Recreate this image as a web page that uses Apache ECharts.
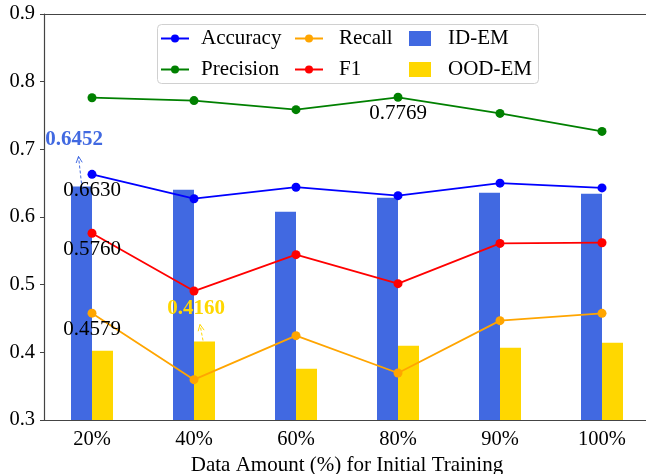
<!DOCTYPE html>
<html>
<head>
<meta charset="utf-8">
<script src="https://cdn.jsdelivr.net/npm/echarts@6/dist/echarts.min.js"></script>
<style>
    html, body {margin: 0; padding: 0; background: #fff;}
    #chart {width: 646px; height: 474px;}
</style>
</head>
<body>
<div id="chart"></div>
<script>
var categories = ['20%', '40%', '60%', '80%', '90%', '100%'];
var accuracy = [0.6630, 0.6270, 0.6440, 0.6315, 0.6500, 0.6430];
var precision = [0.7763, 0.7720, 0.7586, 0.7769, 0.7531, 0.7265];
var recall = [0.4579, 0.3596, 0.4246, 0.3695, 0.4468, 0.4576];
var f1 = [0.5760, 0.4906, 0.5443, 0.5015, 0.5610, 0.5620];
var idEm = [0.6452, 0.6404, 0.6079, 0.6285, 0.6359, 0.6345];
var oodEm = [0.4024, 0.4160, 0.3758, 0.4098, 0.4069, 0.4143];
var yTicks = [0.3, 0.4, 0.5, 0.6, 0.7, 0.8, 0.9];

// which points get a black value label under them
var accuracyLabeled = [0];
var precisionLabeled = [3];
var recallLabeled = [0];
var f1Labeled = [0];
// bars that get a coloured callout with an arrow
var idEmCallout = [0];
var oodEmCallout = [1];

var FONT = 'Liberation Serif';
var BAR_W = 21;

var lineData = function (values, labeled) {
    return values.map(function (v, i) {
        if (labeled.indexOf(i) < 0) return v;
        return {
            value: v,
            label: {
                show: true, position: 'bottom', distance: 1,
                formatter: v.toFixed(4),
                fontFamily: FONT, fontSize: 21, color: '#000'
            }
        };
    });
};

var lineSeries = function (name, values, labeled, color) {
    return {
        name: name,
        type: 'line',
        data: lineData(values, labeled),
        symbol: 'circle',
        symbolSize: 9,
        color: color,
        lineStyle: {width: 1.8, color: color},
        itemStyle: {color: color},
        z: 5
    };
};

// callout geometry, offsets in px from the top centre of the bar
var calloutStyle = {
    'ID-EM': {color: '#4169E1', from: [0, -3], to: [-3, -30], text: [-7.5, -47]},
    'OOD-EM': {color: '#FFD700', from: [-1.5, -1], to: [-4.5, -17], text: [-8.5, -33]}
};

var calloutData = [];
idEmCallout.forEach(function (i) {
    calloutData.push([i, idEm[i], -1, 'ID-EM']);
});
oodEmCallout.forEach(function (i) {
    calloutData.push([i, oodEm[i], 1, 'OOD-EM']);
});

var renderCallout = function (params, api) {
    var item = calloutData[params.dataIndex];
    var st = calloutStyle[item[3]];
    var p = api.coord([item[0], item[1]]);
    var x = p[0] + item[2] * BAR_W / 2;
    var y = p[1];
    var x1 = x + st.from[0], y1 = y + st.from[1];
    var x2 = x + st.to[0], y2 = y + st.to[1];
    var ang = Math.atan2(y2 - y1, x2 - x1);
    var head = 7, spread = 0.45;
    var h1 = [x2 - head * Math.cos(ang - spread), y2 - head * Math.sin(ang - spread)];
    var h2 = [x2 - head * Math.cos(ang + spread), y2 - head * Math.sin(ang + spread)];
    return {
        type: 'group',
        children: [{
            type: 'line',
            shape: {x1: x1, y1: y1, x2: x2, y2: y2},
            style: {stroke: st.color, lineWidth: 1, lineDash: [3, 2]}
        }, {
            type: 'polyline',
            shape: {points: [h1, [x2, y2], h2]},
            style: {stroke: st.color, lineWidth: 1, fill: null}
        }, {
            type: 'text',
            x: x + st.text[0],
            y: y + st.text[1],
            style: {
                text: item[1].toFixed(4),
                fill: st.color,
                fontFamily: FONT, fontSize: 21, fontWeight: 'bold',
                align: 'center', verticalAlign: 'middle'
            }
        }]
    };
};

var legendText = function (pad) {
    return {fontFamily: FONT, fontSize: 21, lineHeight: 21, color: '#000', padding: [0, 0, 0, pad]};
};

var chart = echarts.init(document.getElementById('chart'));
var options = {
    animation: false,
    textStyle: {fontFamily: FONT},
    grid: {left: 41, width: 612, top: 14, bottom: 54, outerBoundsMode: 'none', containLabel: false},
    graphic: [{
        type: 'rect', left: 157, top: 24, z: 1,
        shape: {width: 381, height: 59, r: 4},
        style: {fill: '#fff', stroke: '#d0d0d0', lineWidth: 1}
    }],
    legend: [{
        data: ['Accuracy', 'Precision'], orient: 'vertical', left: 160, top: 28,
        padding: 0, itemWidth: 28, itemHeight: 10, itemGap: 10, textStyle: legendText(7)
    }, {
        data: ['Recall', 'F1'], orient: 'vertical', left: 294, top: 28,
        padding: 0, itemWidth: 28, itemHeight: 10, itemGap: 10, textStyle: legendText(11)
    }, {
        data: ['ID-EM', 'OOD-EM'], orient: 'vertical', left: 409, top: 28, icon: 'rect',
        padding: 0, itemWidth: 22, itemHeight: 15, itemGap: 10, textStyle: legendText(12)
    }],
    xAxis: [{
        type: 'category',
        data: categories,
        name: 'Data Amount (%) for Initial Training',
        nameLocation: 'middle',
        nameGap: 29,
        nameTextStyle: {fontFamily: FONT, fontSize: 21, color: '#000'},
        axisLine: {lineStyle: {color: '#444', width: 1.2}},
        axisTick: {alignWithLabel: true, length: 4, lineStyle: {color: '#444'}},
        axisLabel: {fontFamily: FONT, fontSize: 20.5, color: '#000', margin: 9}
    }, {
        type: 'category',
        data: categories,
        position: 'top',
        axisLine: {lineStyle: {color: '#444', width: 1.2}},
        axisTick: {show: false},
        axisLabel: {show: false}
    }],
    yAxis: {
        type: 'value',
        min: yTicks[0],
        max: yTicks[yTicks.length - 1],
        interval: 0.1,
        offset: -3,
        splitLine: {show: false},
        axisLine: {show: true, lineStyle: {color: '#444', width: 1.2}},
        axisTick: {show: true, length: 4, lineStyle: {color: '#444'}},
        axisLabel: {
            fontFamily: FONT, fontSize: 20.5, color: '#000', margin: 9,
            formatter: function (v) { return v.toFixed(1); }
        }
    },
    series: [
        {name: 'ID-EM', type: 'bar', data: idEm, barWidth: BAR_W, barGap: '0%', itemStyle: {color: '#4169E1'}, z: 2},
        {name: 'OOD-EM', type: 'bar', data: oodEm, barWidth: BAR_W, barGap: '0%', itemStyle: {color: '#FFD700'}, z: 2},
        lineSeries('Accuracy', accuracy, accuracyLabeled, '#0000FF'),
        lineSeries('Precision', precision, precisionLabeled, '#008000'),
        lineSeries('Recall', recall, recallLabeled, '#FFA500'),
        lineSeries('F1', f1, f1Labeled, '#FF0000'),
        {
            name: 'callouts', type: 'custom', data: calloutData,
            renderItem: renderCallout, z: 6, silent: true
        }
    ]
};
chart.setOption(options);
</script>
</body>
</html>
